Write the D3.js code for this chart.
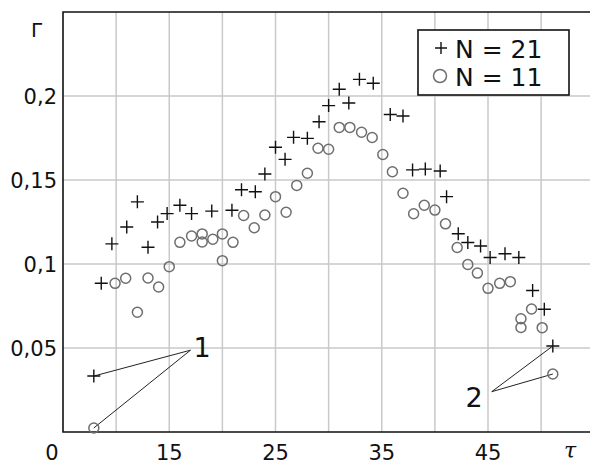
<!DOCTYPE html>
<html>
<head>
<meta charset="utf-8">
<script src="https://cdn.jsdelivr.net/npm/d3@7"></script>
<style>
    html, body { margin: 0; padding: 0; background: #fff; }
    svg { display: block; font-family: "DejaVu Sans", Verdana, sans-serif; }
</style>
</head>
<body>
<div id="chart"></div>
<script>
// N = 21 (крестики)
const tau21 = [7.9, 8.6, 9.6, 11.0, 12.0, 13.0, 13.9, 14.8, 16.0, 17.1, 19.0, 20.9, 21.8, 23.1, 24.0, 25.0, 25.9, 26.7, 28.0, 29.1,
    30.0, 31.0, 31.9, 32.9, 34.2, 35.8, 37.0, 37.9, 39.1, 40.5, 41.1, 42.2, 43.1, 44.3, 45.2, 46.6, 47.9, 49.2, 50.3, 51.1];
const gamma21 = [0.0333, 0.0885, 0.112, 0.122, 0.137, 0.110, 0.125, 0.130, 0.135, 0.130, 0.1315, 0.132, 0.1442, 0.143, 0.1536, 0.1695, 0.1623, 0.1754, 0.1748, 0.1847,
    0.1943, 0.204, 0.1958, 0.2099, 0.2076, 0.189, 0.1881, 0.156, 0.1565, 0.1554, 0.1401, 0.118, 0.1128, 0.1107, 0.1039, 0.1061, 0.1039, 0.0842, 0.0731, 0.0512];

// N = 11 (кружки)
const tau11 = [7.9, 9.9, 10.9, 12.0, 13.0, 14.0, 15.0, 16.0, 17.1, 18.1, 18.1, 19.1, 20.0, 20.0, 21.0, 22.0, 23.0, 24.0, 25.0, 26.0,
    27.0, 28.0, 29.0, 30.0, 31.0, 32.0, 33.1, 34.1, 35.1, 36.0, 37.0, 38.0, 39.0, 40.0, 41.0, 42.1, 43.1, 44.0, 45.0, 46.1,
    47.1, 48.1, 48.1, 49.1, 50.1, 51.1];
const gamma11 = [0.0024, 0.0885, 0.0915, 0.0713, 0.0917, 0.0863, 0.0984, 0.1129, 0.1167, 0.1179, 0.1131, 0.1147, 0.1179, 0.102, 0.1129, 0.1289, 0.1216, 0.1292, 0.1401, 0.1308,
    0.1468, 0.154, 0.1689, 0.1683, 0.1813, 0.1813, 0.1784, 0.1753, 0.1652, 0.1549, 0.1421, 0.1299, 0.135, 0.1321, 0.1239, 0.1098, 0.0997, 0.0946, 0.0855, 0.0885,
    0.0895, 0.0674, 0.0622, 0.0732, 0.0621, 0.0345];

const xGrid = [10, 15, 20, 25, 30, 35, 40, 45, 50];
const xTickLabels = [15, 25, 35, 45];
const yTicks = [0.05, 0.1, 0.15, 0.2];
const legendLabels = ["N = 21", "N = 11"];

(() => {
    const width = 590, height = 464, margin = { top: 12, right: 0, bottom: 32, left: 63 };

    const svg = d3.select("#chart").append("svg")
        .attr("width", width)
        .attr("height", height);

    const x = d3.scaleLinear()
        .domain([5, 5 + (width - margin.left) / 10.625])
        .range([margin.left, width]);

    const y = d3.scaleLinear()
        .domain([0, 0.25])
        .range([height - margin.bottom, margin.top]);

    const fmt = d => String(d).replace(".", ",");

    // сетка
    svg.append("g").selectAll("line")
        .data(xGrid)
        .join("line")
        .attr("x1", d => x(d)).attr("x2", d => x(d))
        .attr("y1", y(0)).attr("y2", y(0.25))
        .attr("stroke", "#c9c9c9").attr("stroke-width", 1.5);

    svg.append("g").selectAll("line")
        .data(yTicks)
        .join("line")
        .attr("x1", margin.left).attr("x2", width)
        .attr("y1", d => y(d)).attr("y2", d => y(d))
        .attr("stroke", "#c9c9c9").attr("stroke-width", 1.5);

    // оси
    svg.append("path")
        .attr("d", `M${width},${y(0.25)}H${margin.left}V${y(0)}H${width}`)
        .attr("fill", "none")
        .attr("stroke", "#111")
        .attr("stroke-width", 1.6);

    // подписи осей
    svg.append("g").selectAll("text")
        .data(yTicks)
        .join("text")
        .attr("x", 57)
        .attr("y", d => y(d) + 7.5)
        .attr("text-anchor", "end")
        .attr("font-size", 21)
        .attr("fill", "#111")
        .text(fmt);

    svg.append("g").selectAll("text")
        .data(xTickLabels)
        .join("text")
        .attr("x", d => x(d))
        .attr("y", 460)
        .attr("text-anchor", "middle")
        .attr("font-size", 21)
        .attr("fill", "#111")
        .text(d => d);

    svg.append("text").attr("x", 52).attr("y", 460)
        .attr("text-anchor", "middle").attr("font-size", 21).attr("fill", "#111").text("0");

    svg.append("text").attr("x", 31).attr("y", 37)
        .attr("font-size", 20).attr("fill", "#111").text("Γ");

    svg.append("text").attr("x", 570).attr("y", 458)
        .attr("text-anchor", "middle").attr("font-size", 22).attr("font-style", "italic")
        .attr("font-family", "DejaVu Serif, serif").attr("fill", "#111").text("τ");

    // выноски 1 и 2
    const n21 = tau21.length - 1, n11 = tau11.length - 1;
    const callouts = [
        { label: "1", ax: 17, ay: 0.0487, tx: 202, ty: 357, pts: [[tau21[0], gamma21[0]], [tau11[0], gamma11[0]]] },
        { label: "2", ax: 45.35, ay: 0.024, tx: 474, ty: 407, pts: [[tau21[n21], gamma21[n21]], [tau11[n11], gamma11[n11]]] }
    ];

    callouts.forEach(c => {
        c.pts.forEach(p => {
            svg.append("line")
                .attr("x1", x(c.ax)).attr("y1", y(c.ay))
                .attr("x2", x(p[0])).attr("y2", y(p[1]))
                .attr("stroke", "#222").attr("stroke-width", 1);
        });
        svg.append("text")
            .attr("x", c.tx).attr("y", c.ty)
            .attr("text-anchor", "middle")
            .attr("font-size", 27)
            .attr("fill", "#111")
            .text(c.label);
    });

    // точки
    const plus = s => `M${-s},0H${s}M0,${-s}V${s}`;

    svg.append("g").selectAll("circle")
        .data(tau11.map((t, i) => [t, gamma11[i]]))
        .join("circle")
        .attr("cx", d => x(d[0]))
        .attr("cy", d => y(d[1]))
        .attr("r", 5)
        .attr("fill", "none")
        .attr("stroke", "#6e6e6e")
        .attr("stroke-width", 1.5);

    svg.append("g").selectAll("path")
        .data(tau21.map((t, i) => [t, gamma21[i]]))
        .join("path")
        .attr("transform", d => `translate(${x(d[0])},${y(d[1])})`)
        .attr("d", plus(6.5))
        .attr("stroke", "#111")
        .attr("stroke-width", 1.4);

    // легенда
    const legend = svg.append("g").attr("transform", "translate(418,30)");
    legend.append("rect")
        .attr("width", 151).attr("height", 65)
        .attr("fill", "#fff").attr("stroke", "#111").attr("stroke-width", 1.6);

    legend.append("path")
        .attr("transform", "translate(23,18)")
        .attr("d", plus(6))
        .attr("stroke", "#111").attr("stroke-width", 1.4);
    legend.append("circle")
        .attr("cx", 22).attr("cy", 46).attr("r", 6.5)
        .attr("fill", "none").attr("stroke", "#6e6e6e").attr("stroke-width", 1.5);

    legend.selectAll("text")
        .data(legendLabels)
        .join("text")
        .attr("x", 37)
        .attr("y", (d, i) => 28 + i * 28)
        .attr("font-size", 25)
        .attr("fill", "#111")
        .text(d => d);
})();
</script>
</body>
</html>
